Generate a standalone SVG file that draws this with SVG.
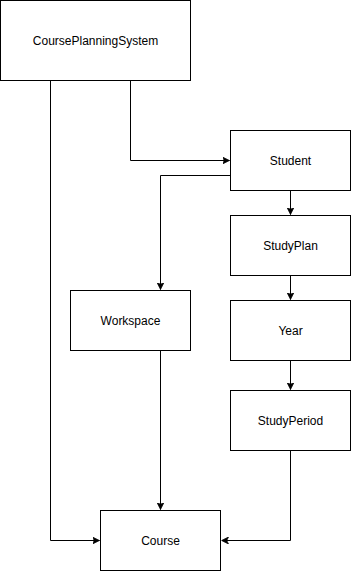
<svg xmlns="http://www.w3.org/2000/svg" width="351" height="572" viewBox="0 0 351 572">
  <style>
    .node rect { fill: #ffffff; stroke: #000000; stroke-width: 1; }
    .node text { font-family: "Liberation Sans", Arial, Helvetica, sans-serif; font-size: 12px; fill: #000000; text-anchor: middle; dominant-baseline: central; }
    .edge { fill: none; stroke: #000000; stroke-width: 1; marker-end: url(#arrow); }
  </style>
  <defs>
    <marker id="arrow" viewBox="0 0 10 10" refX="10" refY="5" markerWidth="7" markerHeight="7" markerUnits="userSpaceOnUse" orient="auto">
      <path d="M0,0 L10,5 L0,10 L2.5,5 Z" fill="#000000" stroke="#000000" stroke-width="1"/>
    </marker>
  </defs>
  <rect width="351" height="572" fill="#ffffff"/>
  <g id="connectors">
    <path class="edge" d="M130.5,80.5 V160.5 H229.5"/>
    <path class="edge" d="M50.5,80.5 V540.5 H99.5"/>
    <path class="edge" d="M230.5,175.5 H160.5 V289.5"/>
    <path class="edge" d="M290.5,190.5 V214.5"/>
    <path class="edge" d="M290.5,275.5 V299.5"/>
    <path class="edge" d="M290.5,360.5 V389.5"/>
    <path class="edge" d="M160.5,350.5 V509.5"/>
    <path class="edge" d="M290.5,450.5 V540.5 H221.5"/>
  </g>
  <g id="CoursePlanningSystem" class="node">
    <rect x="0.5" y="0.5" width="190" height="80"/>
    <text x="95.5" y="40.5">CoursePlanningSystem</text>
  </g>
  <g id="Student" class="node">
    <rect x="230.5" y="130.5" width="120" height="60"/>
    <text x="290.5" y="160.5">Student</text>
  </g>
  <g id="StudyPlan" class="node">
    <rect x="230.5" y="215.5" width="120" height="60"/>
    <text x="290.5" y="245.5">StudyPlan</text>
  </g>
  <g id="Year" class="node">
    <rect x="230.5" y="300.5" width="120" height="60"/>
    <text x="290.5" y="330.5">Year</text>
  </g>
  <g id="StudyPeriod" class="node">
    <rect x="230.5" y="390.5" width="120" height="60"/>
    <text x="290.5" y="420.5">StudyPeriod</text>
  </g>
  <g id="Workspace" class="node">
    <rect x="70.5" y="290.5" width="120" height="60"/>
    <text x="130.5" y="320.5">Workspace</text>
  </g>
  <g id="Course" class="node">
    <rect x="100.5" y="510.5" width="120" height="60"/>
    <text x="160.5" y="540.5">Course</text>
  </g>
</svg>
